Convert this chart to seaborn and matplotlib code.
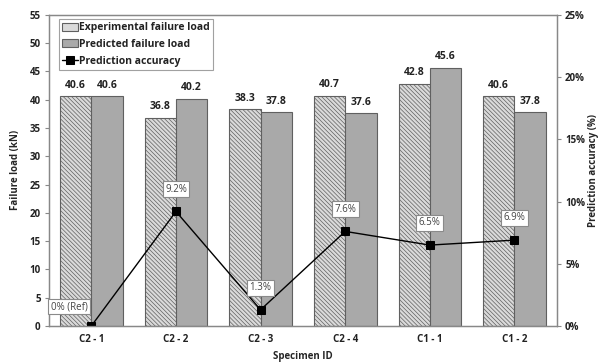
import matplotlib
matplotlib.use("Agg")
import matplotlib.pyplot as plt
import seaborn as sns
import pandas as pd
from matplotlib.ticker import FuncFormatter

specimens = ["C2 - 1", "C2 - 2", "C2 - 3", "C2 - 4", "C1 - 1", "C1 - 2"]
experimental = [40.6, 36.8, 38.3, 40.7, 42.8, 40.6]
predicted = [40.6, 40.2, 37.8, 37.6, 45.6, 37.8]
accuracy = [0.0, 9.2, 1.3, 7.6, 6.5, 6.9]
acc_labels = ["0% (Ref)", "9.2%", "1.3%", "7.6%", "6.5%", "6.9%"]
series_names = ["Experimental failure load", "Predicted failure load"]

sns.set_style("white")
plt.rcParams["font.family"] = ["Open Sans", "DejaVu Sans"]
plt.rcParams["hatch.color"] = "#8a8a8a"
plt.rcParams["hatch.linewidth"] = 0.5

df = pd.DataFrame({
    "Specimen": specimens * 2,
    "Load": experimental + predicted,
    "Series": [series_names[0]] * 6 + [series_names[1]] * 6,
})

fig = plt.figure(figsize=(5.98, 3.63), dpi=100)
ax = fig.add_axes([0.082, 0.102, 0.849, 0.857])

sns.barplot(data=df, x="Specimen", y="Load", hue="Series", ax=ax,
            palette=["#dadada", "#a9a9a9"], width=0.74, gap=0,
            edgecolor="#606060", linewidth=0.8, saturation=1, legend=True)

for patch in ax.containers[0]:
    patch.set_hatch("\\\\\\\\\\\\\\\\")
    patch.set_edgecolor("#606060")

for cont in ax.containers:
    ax.bar_label(cont, fmt="%.1f", padding=4, fontsize=7.5, fontweight="bold", color="#222222")

ax.set_ylim(0, 55)
ax.set_yticks(range(0, 56, 5))
ax.set_xlim(-0.5, 5.5)
ax.set_ylabel("Failure load (kN)", fontsize=7, fontweight="bold", labelpad=6)
ax.set_xlabel("Specimen ID", fontsize=7, fontweight="bold", labelpad=4)
for lbl in ax.get_xticklabels() + ax.get_yticklabels():
    lbl.set_fontweight("bold")
    lbl.set_fontsize(7)
    lbl.set_color("#222222")
ax.tick_params(axis="x", length=0, pad=6)
ax.tick_params(axis="y", length=3, width=0.8, color="#888888", pad=3, direction="out", left=True)
for s in ax.spines.values():
    s.set_color("#888888")
    s.set_linewidth(0.9)

ax2 = ax.twinx()
sns.lineplot(x=specimens, y=accuracy, ax=ax2, color="black", marker="s",
             markersize=6, markeredgecolor="black", linewidth=1.0, sort=False)
ax2.set_ylim(0, 25)
ax2.set_yticks(range(0, 26, 5))
ax2.yaxis.set_major_formatter(FuncFormatter(lambda v, p: f"{v:.0f}%"))
ax2.set_ylabel("Prediction accuracy (%)", fontsize=7, fontweight="bold", labelpad=2)
for lbl in ax2.get_yticklabels():
    lbl.set_fontweight("bold")
    lbl.set_fontsize(7)
    lbl.set_color("#222222")
ax2.tick_params(axis="y", length=3, width=0.8, color="#888888", pad=3, direction="out", right=True)
for s in ax2.spines.values():
    s.set_color("#888888")
    s.set_linewidth(0.9)

for i, (v, t) in enumerate(zip(accuracy, acc_labels)):
    off = (-16, 14) if i == 0 else (0, 16)
    ax2.annotate(t, (i, v), xytext=off, textcoords="offset points",
                 ha="center", va="center", fontsize=7, color="#444444",
                 bbox=dict(boxstyle="square,pad=0.25", fc="white", ec="#8a8a8a", lw=0.8))

handles, labels = ax.get_legend_handles_labels()
line_h = ax2.get_lines()[0]
ax.get_legend().remove()
leg = ax.legend(handles + [line_h], labels + ["Prediction accuracy"],
                loc="upper left", bbox_to_anchor=(0.015, 0.995), fontsize=7.5,
                frameon=True, fancybox=False, edgecolor="#8a8a8a",
                handlelength=1.5, handleheight=0.8, handletextpad=0.1,
                labelspacing=0.55, borderpad=0.35, borderaxespad=0.2)
leg.get_frame().set_linewidth(0.8)
for t in leg.get_texts():
    t.set_fontweight("bold")
    t.set_color("#222222")

fig.savefig("out.png", dpi=100)
